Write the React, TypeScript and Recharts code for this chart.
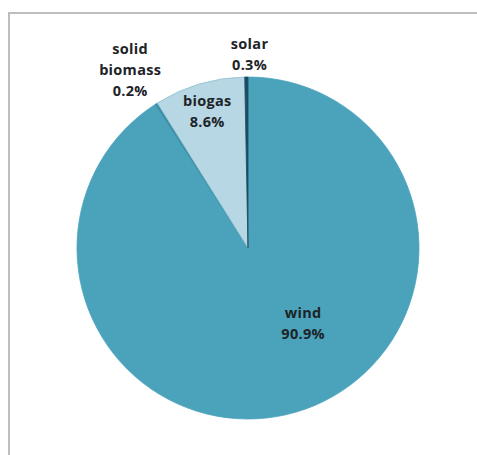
import React from 'react';
import { PieChart, Pie, Cell } from 'recharts';

const categories = ['wind', 'solid biomass', 'biogas', 'solar'];
const shares = [90.9, 0.2, 8.6, 0.3];
const labelLines = [['wind'], ['solid', 'biomass'], ['biogas'], ['solar']];

const colors = ['#4AA3BB', '#3A8CA5', '#B6D7E3', '#1C4D62'];
const labelRadius = [93, 214, 143, 195];
const labelAngleShift = [20, 1, 0, -1];

const data = categories.map((name, i) => ({ name, value: shares[i], idx: i }));

const RAD = Math.PI / 180;

const renderLabel = (props: any) => {
  const { cx, cy, midAngle, index, value } = props;
  const ang = (midAngle + labelAngleShift[index]) * RAD;
  const r = labelRadius[index];
  const x = cx + r * Math.cos(ang);
  const y = cy - r * Math.sin(ang);
  const lines = [...labelLines[index], `${value.toFixed(1)}%`];
  const lh = 21;
  const y0 = y - ((lines.length - 1) * lh) / 2;
  return (
    <text
      x={x}
      y={y0}
      textAnchor="middle"
      dominantBaseline="central"
      fontFamily="'Open Sans', sans-serif"
      fontWeight={700}
      fontSize={14.5}
      letterSpacing={0.3}
      fill="#1e2328"
    >
      {lines.map((l, k) => (
        <tspan key={k} x={x} y={y0 + k * lh}>
          {l}
        </tspan>
      ))}
    </text>
  );
};

export default function App() {
  return (
    <div style={{ position: 'absolute', left: 0, top: 0, width: 477, height: 455, background: '#fff' }}>
      <div
        style={{
          position: 'absolute',
          left: 8,
          top: 12,
          width: 480,
          height: 460,
          borderLeft: '2px solid #bdbdbd',
          borderTop: '2px solid #bdbdbd',
        }}
      />
      <div style={{ position: 'absolute', left: 0, top: 0 }}>
        <PieChart width={477} height={455} margin={{ top: 0, right: 0, bottom: 0, left: 0 }}>
          <Pie
            data={data}
            dataKey="value"
            nameKey="name"
            cx={248}
            cy={248}
            outerRadius={171}
            startAngle={90}
            endAngle={-270}
            label={renderLabel}
            labelLine={false}
            isAnimationActive={false}
          >
            {data.map((d, i) => (
              <Cell key={d.name} fill={colors[i]} stroke={i === 2 ? '#8fbfd0' : colors[i]} strokeWidth={0.8} />
            ))}
          </Pie>
        </PieChart>
      </div>
    </div>
  );
}
